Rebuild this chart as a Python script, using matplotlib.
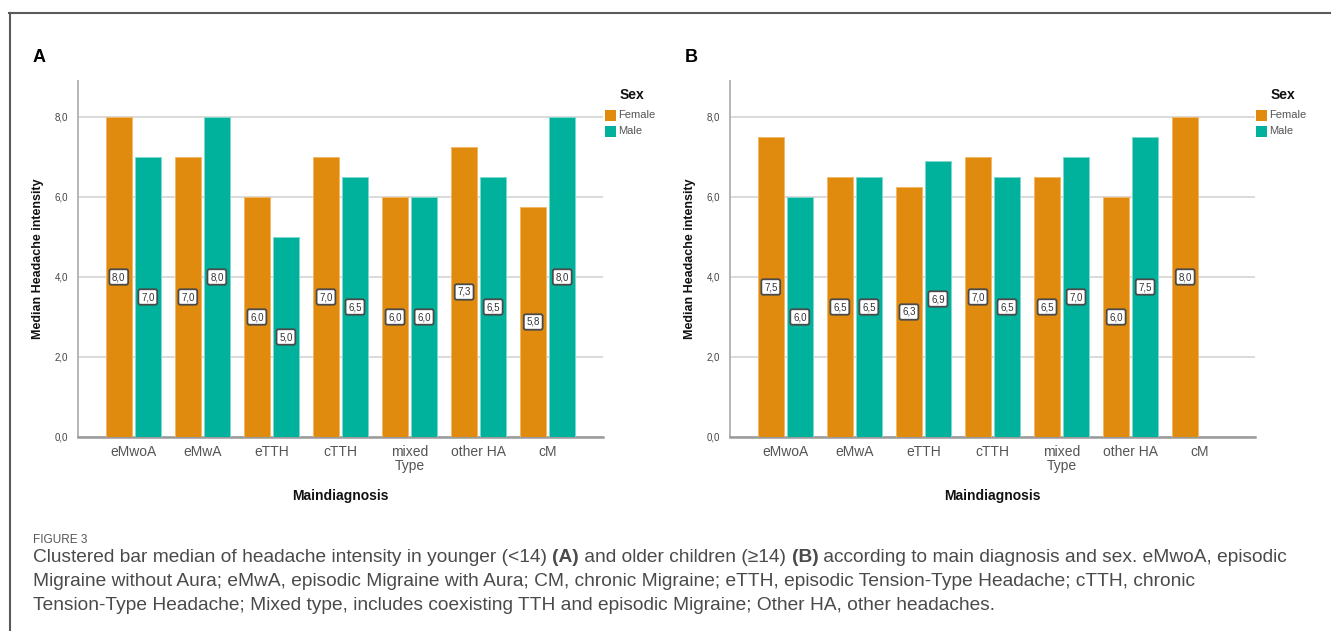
import matplotlib
matplotlib.use("Agg")
import matplotlib.pyplot as plt
from matplotlib import font_manager
from matplotlib.patches import Rectangle
from matplotlib.lines import Line2D
import numpy as np

# data
categories = ["eMwoA", "eMwA", "eTTH", "cTTH", "mixed\nType", "other HA", "cM"]
young_female = [8.0, 7.0, 6.0, 7.0, 6.0, 7.25, 5.75]
young_male = [7.0, 8.0, 5.0, 6.5, 6.0, 6.5, 8.0]
old_female = [7.5, 6.5, 6.25, 7.0, 6.5, 6.0, 8.0]
old_male = [6.0, 6.5, 6.9, 6.5, 7.0, 7.5, np.nan]
y_ticks = [0, 2, 4, 6, 8]
sexes = ["Female", "Male"]

ORANGE = "#E08A0E"
TEAL = "#00B29C"
ORANGE_EDGE = "#F2B867"
TEAL_EDGE = "#80D9CD"

plt.rcParams['font.family'] = ['Liberation Sans', 'DejaVu Sans']

W, H = 1331, 631
fig = plt.figure(figsize=(W / 100, H / 100), dpi=100)


def fx(x):
    return x / W


def fy(y):
    return 1 - y / H


def fmt(v):
    # half-up rounding, comma decimal like SPSS
    return f"{np.floor(v * 10 + 0.5) / 10:.1f}".replace(".", ",")


def draw_panel(left_px, female, male, letter, legend_x):
    ax = fig.add_axes([fx(left_px), fy(437), 525 / W, (437 - 81) / H])
    x = np.arange(len(categories))
    bw = 0.377
    off = 0.21
    for vals, sign, col, edge in [(female, -1, ORANGE, ORANGE_EDGE), (male, 1, TEAL, TEAL_EDGE)]:
        vals = np.array(vals, dtype=float)
        ok = ~np.isnan(vals)
        ax.bar(x[ok] + sign * off, vals[ok], width=bw, color=col,
               edgecolor=edge, linewidth=0.7, zorder=3)
        for xi, v in zip(x[ok], vals[ok]):
            ax.text(xi + sign * off, v / 2, fmt(v), ha="center", va="center",
                    fontsize=7, color="#333333", zorder=5,
                    bbox=dict(boxstyle="round,pad=0.28,rounding_size=0.2",
                              fc="white", ec="#4a4a4a", lw=1.3))
    ax.set_xlim(-0.8, len(categories) - 1 + 0.8)
    ax.set_ylim(0, 8.9)
    ax.set_yticks(y_ticks)
    ax.set_yticklabels([f"{t:.1f}".replace(".", ",") for t in y_ticks],
                       fontsize=7, color="#444444")
    ax.set_xticks(x)
    ax.set_xticklabels(categories, fontsize=10, color="#555555", linespacing=0.95)
    ax.tick_params(axis="both", length=0, pad=7)
    ax.tick_params(axis="x", pad=6)
    ax.grid(axis="y", color="#d4d4d4", linewidth=1.2, zorder=0)
    ax.set_axisbelow(True)
    for s in ["top", "right"]:
        ax.spines[s].set_visible(False)
    ax.spines["left"].set_color("#b0b0b0")
    ax.spines["left"].set_linewidth(1.3)
    ax.spines["bottom"].set_color("#9a9a9a")
    ax.spines["bottom"].set_linewidth(1.8)
    ax.set_ylabel("Median Headache intensity", fontsize=9, fontweight="bold",
                  color="#111111", labelpad=8)
    ax.set_xlabel("Maindiagnosis", fontsize=10, fontweight="bold",
                  color="#111111", labelpad=12)

    fig.text(fx(left_px - 45), fy(58), letter, fontsize=13, fontweight="bold",
             ha="left", va="center")
    # legend
    fig.text(fx(legend_x + 27), fy(95), "Sex", fontsize=10, fontweight="bold",
             ha="center", va="center", color="#111111")
    for i, (lab, col) in enumerate(zip(sexes, [ORANGE, TEAL])):
        yt = 110 + i * 16
        fig.patches.append(Rectangle((fx(legend_x), fy(yt + 11)), 11 / W, 11 / H,
                                     transform=fig.transFigure, facecolor=col,
                                     edgecolor="none"))
        fig.text(fx(legend_x + 13), fy(yt + 5.5), lab, fontsize=8,
                 color="#555555", ha="left", va="center")
    return ax


draw_panel(78, young_female, young_male, "A", 605)
draw_panel(730, old_female, old_male, "B", 1256)

# outer frame
fig.add_artist(Line2D([fx(9), fx(W)], [fy(13), fy(13)], color="#5a5a5a", lw=1.5))
fig.add_artist(Line2D([fx(10), fx(10)], [fy(13), fy(H)], color="#5a5a5a", lw=1.5))

# caption
cap_font = ['Liberation Sans Narrow', 'Liberation Sans', 'DejaVu Sans']
fig.text(fx(33), fy(540), "FIGURE 3", fontsize=8.5, color="#555555",
         family=cap_font, ha="left", va="center")

lines = [
    [("Clustered bar median of headache intensity in younger (<14) ", "normal"),
     ("(A)", "bold"), (" and older children (≥14) ", "normal"), ("(B)", "bold"),
     (" according to main diagnosis and sex. eMwoA, episodic", "normal")],
    [("Migraine without Aura; eMwA, episodic Migraine with Aura; CM, chronic Migraine; "
      "eTTH, episodic Tension-Type Headache; cTTH, chronic", "normal")],
    [("Tension-Type Headache; Mixed type, includes coexisting TTH and episodic Migraine; "
      "Other HA, other headaches.", "normal")],
]
renderer = fig.canvas.get_renderer()


def line_width(parts, size):
    total = 0
    for txt, wt in parts:
        t = fig.text(0, 0, txt, fontsize=size, fontweight=wt, family=cap_font)
        total += t.get_window_extent(renderer).width
        t.remove()
    return total


size = 12
size = size * 1262 / line_width(lines[0], size)

for i, parts in enumerate(lines):
    xp = 33
    yp = 557 + i * 24
    for txt, wt in parts:
        t = fig.text(fx(xp), fy(yp), txt, fontsize=size, fontweight=wt,
                     family=cap_font, color="#4a4a4a", ha="left", va="center")
        xp += t.get_window_extent(renderer).width

fig.savefig("out.png", dpi=100)
